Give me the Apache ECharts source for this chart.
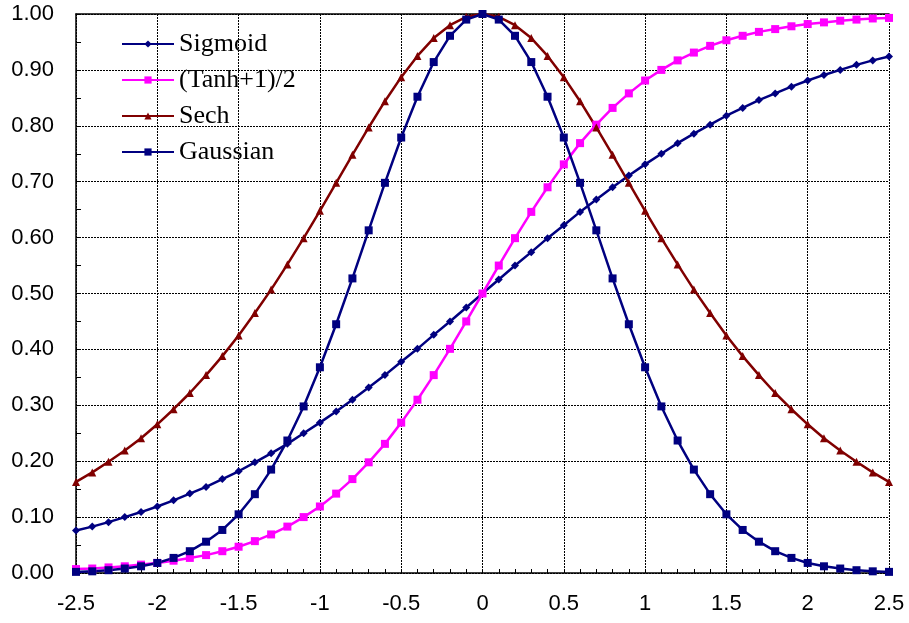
<!DOCTYPE html>
<html>
<head>
<meta charset="utf-8">
<script src="https://cdn.jsdelivr.net/npm/echarts@6/dist/echarts.min.js"></script>
<style>
    html, body { margin: 0; padding: 0; background: #fff; }
    #main { width: 909px; height: 623px; }
</style>
</head>
<body>
<div id="main"></div>
<script>
var xValues = [-2.5, -2.4, -2.3, -2.2, -2.1, -2.0, -1.9, -1.8, -1.7, -1.6, -1.5, -1.4, -1.3, -1.2, -1.1, -1.0,
    -0.9, -0.8, -0.7, -0.6, -0.5, -0.4, -0.3, -0.2, -0.1, 0,
    0.1, 0.2, 0.3, 0.4, 0.5, 0.6, 0.7, 0.8, 0.9, 1.0, 1.1, 1.2, 1.3, 1.4, 1.5,
    1.6, 1.7, 1.8, 1.9, 2.0, 2.1, 2.2, 2.3, 2.4, 2.5];

var sigmoid = [0.076, 0.083, 0.091, 0.100, 0.109, 0.119, 0.130, 0.142, 0.154, 0.168, 0.182, 0.198, 0.214, 0.231, 0.250, 0.269,
    0.289, 0.310, 0.332, 0.354, 0.378, 0.401, 0.426, 0.450, 0.475, 0.500,
    0.525, 0.550, 0.574, 0.599, 0.622, 0.646, 0.668, 0.690, 0.711, 0.731, 0.750, 0.769, 0.786, 0.802, 0.818,
    0.832, 0.846, 0.858, 0.870, 0.881, 0.891, 0.900, 0.909, 0.917, 0.924];

var tanhHalf = [0.007, 0.008, 0.010, 0.012, 0.015, 0.018, 0.022, 0.027, 0.032, 0.039, 0.047, 0.057, 0.069, 0.083, 0.100, 0.119,
    0.142, 0.168, 0.198, 0.231, 0.269, 0.310, 0.354, 0.401, 0.450, 0.500,
    0.550, 0.599, 0.646, 0.690, 0.731, 0.769, 0.802, 0.832, 0.858, 0.881, 0.900, 0.917, 0.931, 0.943, 0.953,
    0.961, 0.968, 0.973, 0.978, 0.982, 0.985, 0.988, 0.990, 0.992, 0.993];

var sech = [0.163, 0.180, 0.199, 0.219, 0.241, 0.266, 0.293, 0.322, 0.354, 0.388, 0.425, 0.465, 0.507, 0.552, 0.599, 0.648,
    0.698, 0.748, 0.797, 0.844, 0.887, 0.925, 0.957, 0.980, 0.995, 1.000,
    0.995, 0.980, 0.957, 0.925, 0.887, 0.844, 0.797, 0.748, 0.698, 0.648, 0.599, 0.552, 0.507, 0.465, 0.425,
    0.388, 0.354, 0.322, 0.293, 0.266, 0.241, 0.219, 0.199, 0.180, 0.163];

var gaussian = [0.002, 0.003, 0.005, 0.008, 0.012, 0.018, 0.027, 0.039, 0.056, 0.077, 0.105, 0.141, 0.185, 0.237, 0.298, 0.368,
    0.445, 0.527, 0.613, 0.698, 0.779, 0.852, 0.914, 0.961, 0.990, 1.000,
    0.990, 0.961, 0.914, 0.852, 0.779, 0.698, 0.613, 0.527, 0.445, 0.368, 0.298, 0.237, 0.185, 0.141, 0.105,
    0.077, 0.056, 0.039, 0.027, 0.018, 0.012, 0.008, 0.005, 0.003, 0.002];

var seriesNames = ['Sigmoid', '(Tanh+1)/2', 'Sech', 'Gaussian'];

function pairs(ys) {
    return xValues.map(function (x, i) { return [x, ys[i]]; });
}

function makeSeries(name, ys, color, symbol, size) {
    return {
        name: name,
        type: 'line',
        data: pairs(ys),
        symbol: symbol,
        symbolSize: size,
        showAllSymbol: true,
        lineStyle: { color: color, width: 2.5 },
        itemStyle: { color: color },
        z: 3
    };
}

var myChart = echarts.init(document.getElementById('main'));
var gridDash = [2, 1];
var option = {
    animation: false,
    backgroundColor: '#fff',
    grid: { left: 76, right: 20, top: 14, bottom: 50 },
    legend: {
        orient: 'vertical',
        left: 121,
        top: 31,
        padding: 0,
        itemWidth: 52,
        itemHeight: 9,
        itemGap: 10,
        data: seriesNames,
        textStyle: { fontFamily: 'Liberation Serif', fontSize: 26, color: '#000', lineHeight: 26 }
    },
    xAxis: [
        {
            type: 'value',
            min: -2.5,
            max: 2.5,
            interval: 0.5,
            axisLine: { show: true, onZero: false, lineStyle: { color: '#000', width: 1.5 } },
            axisTick: { show: true, inside: true, length: 4, lineStyle: { color: '#000' } },
            minorTick: { show: true, splitNumber: 5, length: 4, lineStyle: { color: '#000' } },
            axisLabel: { fontFamily: 'Liberation Sans', fontSize: 22, color: '#000', margin: 20 },
            splitLine: { show: true, lineStyle: { color: '#000', type: gridDash, width: 1 } }
        },
        {
            type: 'value',
            position: 'top',
            min: -2.5,
            max: 2.5,
            interval: 0.5,
            axisLine: { show: true, onZero: false, lineStyle: { color: '#000', width: 1.5 } },
            axisTick: { show: false },
            axisLabel: { show: false },
            splitLine: { show: false }
        }
    ],
    yAxis: {
        type: 'value',
        min: 0,
        max: 1,
        interval: 0.1,
        axisLine: { show: true, onZero: false, lineStyle: { color: '#000', width: 1.5 } },
        axisTick: { show: true, inside: true, length: 5, lineStyle: { color: '#000' } },
        minorTick: { show: true, splitNumber: 2, length: 5, lineStyle: { color: '#000' } },
        axisLabel: {
            fontFamily: 'Liberation Sans', fontSize: 22, color: '#000', margin: 22,
            formatter: function (v) { return v.toFixed(2); }
        },
        splitLine: { show: true, lineStyle: { color: '#000', type: gridDash, width: 1 } }
    },
    series: [
        makeSeries(seriesNames[0], sigmoid, '#000080', 'diamond', 8),
        makeSeries(seriesNames[1], tanhHalf, '#FF00FF', 'rect', 8),
        makeSeries(seriesNames[2], sech, '#800000', 'triangle', 8),
        makeSeries(seriesNames[3], gaussian, '#000080', 'rect', 8)
    ]
};
myChart.setOption(option);
</script>
</body>
</html>
